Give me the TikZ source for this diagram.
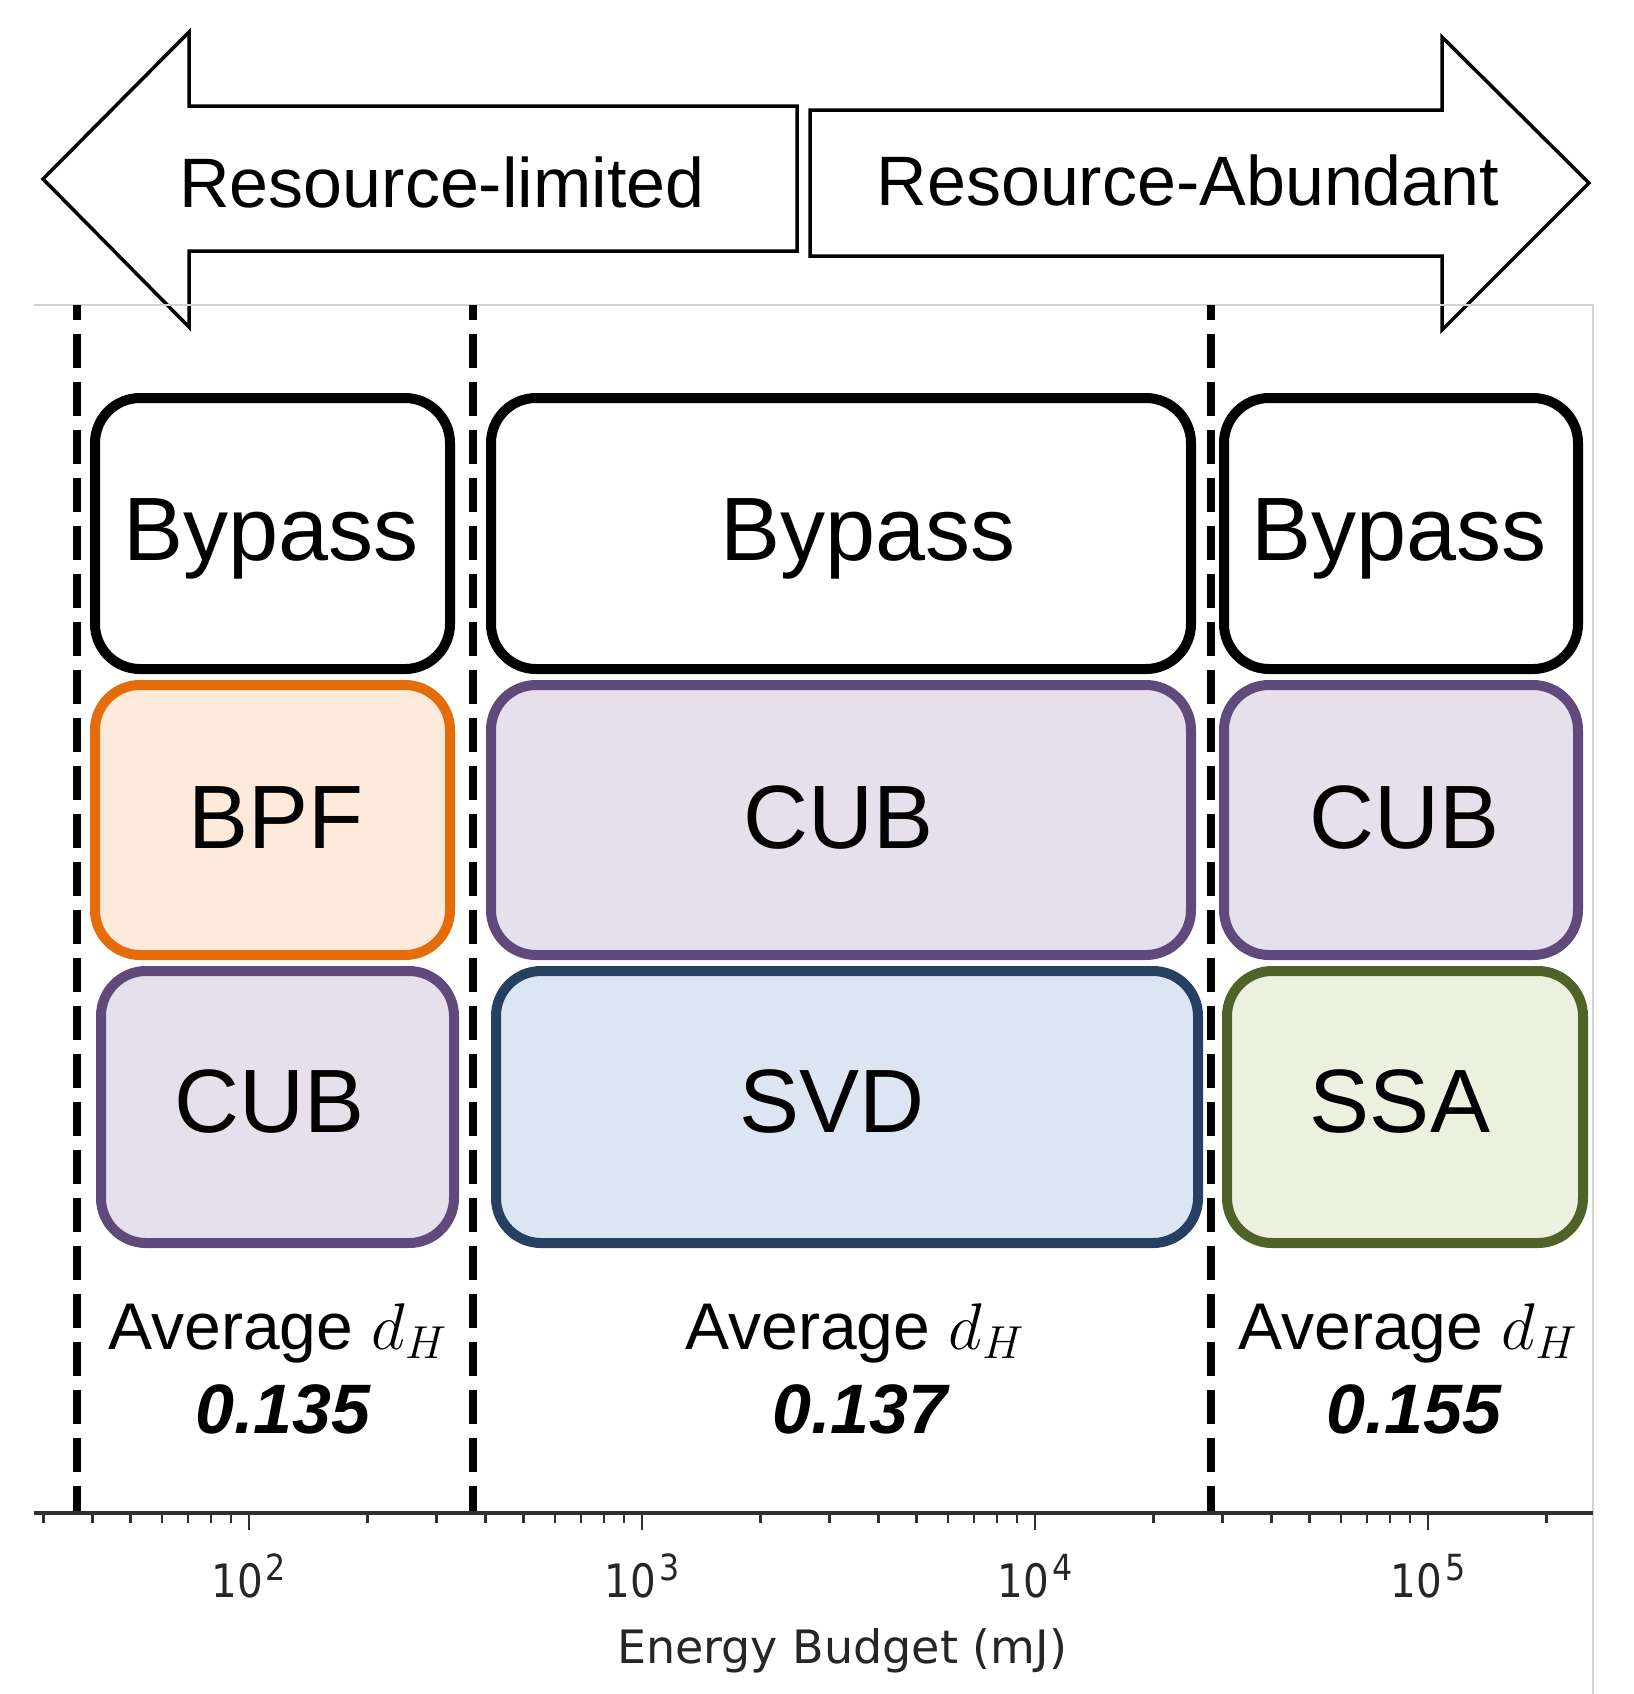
\RequirePackage{fix-cm}
\documentclass[tikz,border=0pt]{standalone}
\usepackage{fontspec}
\setmainfont{Liberation Sans}
\newfontfamily\dejavu{DejaVu Sans}
\usetikzlibrary{fit}
\definecolor{orangeB}{HTML}{E46C0A}
\definecolor{orangeF}{HTML}{FDEADA}
\definecolor{purpB}{HTML}{604A7B}
\definecolor{purpF}{HTML}{E5E0EC}
\definecolor{blueB}{HTML}{254061}
\definecolor{blueF}{HTML}{DCE6F2}
\definecolor{greenB}{HTML}{4F6228}
\definecolor{greenF}{HTML}{EBF1DE}
\definecolor{axgray}{HTML}{303030}
\definecolor{framegray}{HTML}{D2D2D2}
\definecolor{mpltext}{HTML}{262626}
\begin{document}
\begin{tikzpicture}[x=0.5pt,y=-0.5pt,
  blk/.style={draw, line width=5pt, rounded corners=22.5pt, inner sep=0pt},
  bypassbox/.style={blk, draw=black, fill=white},
  bpfbox/.style={blk, draw=orangeB, fill=orangeF},
  cubbox/.style={blk, draw=purpB, fill=purpF},
  svdbox/.style={blk, draw=blueB, fill=blueF},
  ssabox/.style={blk, draw=greenB, fill=greenF},
  boxtxt/.style={anchor=base, inner sep=0pt, font=\fontsize{45}{54}\selectfont},
  arrtxt/.style={anchor=base, inner sep=0pt, font=\fontsize{35}{42}\selectfont},
  avgtxt/.style={anchor=base, inner sep=0pt, font=\fontsize{33}{40}\selectfont},
  valtxt/.style={anchor=base, inner sep=0pt, font=\fontsize{35}{42}\selectfont\bfseries\itshape},
  ticklab/.style={anchor=base, inner sep=0pt, text=mpltext, font=\dejavu\fontsize{23}{28}\selectfont},
  axlab/.style={anchor=base, inner sep=0pt, text=mpltext, font=\dejavu\fontsize{23}{28}\selectfont},
  bigarrow/.style={draw=black, line width=1.75pt, line join=miter},
  vdash/.style={line width=4pt, dash pattern=on 17pt off 7pt, dash phase=9.5pt},
  tickmark/.style={axgray, line width=1.25pt}
]
\useasboundingbox (0,0) rectangle (1634,1694);
\fill[white] (0,0) rectangle (1634,1694);

% top arrows
\draw[bigarrow] (43,179) -- (189,32) -- (189,106) -- (797,106) -- (797,251) -- (189,251) -- (189,327) -- cycle;
\draw[bigarrow] (810,110) -- (1442,110) -- (1442,37) -- (1589,183) -- (1442,330) -- (1442,256) -- (810,256) -- cycle;
\node[arrtxt] (rlim) at (442,207) {Resource-limited};
\node[arrtxt] (rabu) at (1188,205) {Resource-Abundant};

% plot frame
\draw[framegray, line width=0.75pt] (34,305) -- (1593,305) -- (1593,1694);

% dashed boundaries
\draw[vdash] (77,305) -- (77,1513);
\draw[vdash] (473,305) -- (473,1513);
\draw[vdash] (1211,305) -- (1211,1513);

% boxes
\node[bypassbox, fit={(95,398) (450,669)}] (b11) {};
\node[bpfbox,    fit={(95,685) (450,955)}] (b21) {};
\node[cubbox,    fit={(101,971) (454,1243)}] (b31) {};
\node[bypassbox, fit={(491,398) (1191,669)}] (b12) {};
\node[cubbox,    fit={(491,685) (1191,955)}] (b22) {};
\node[svdbox,    fit={(496,971) (1198,1243)}] (b32) {};
\node[bypassbox, fit={(1224,398) (1578,669)}] (b13) {};
\node[cubbox,    fit={(1224,685) (1578,955)}] (b23) {};
\node[ssabox,    fit={(1227,971) (1583,1243)}] (b33) {};

\node[boxtxt] (t11) at (271,560) {Bypass};
\node[boxtxt] (t12) at (868,560) {Bypass};
\node[boxtxt] (t13) at (1399,560) {Bypass};
\node[boxtxt] (t21) at (276,848) {BPF};
\node[boxtxt] (t22) at (839,848) {CUB};
\node[boxtxt] (t23) at (1405,848) {CUB};
\node[boxtxt] (t31) at (270,1132) {CUB};
\node[boxtxt] (t32) at (832,1132) {SVD};
\node[boxtxt] (t33) at (1400,1132) {SSA};

% averages
\node[avgtxt] (a1) at (278,1349) {Average $d_H$};
\node[avgtxt] (a2) at (855,1349) {Average $d_H$};
\node[avgtxt] (a3) at (1408,1349) {Average $d_H$};
\node[valtxt] (v1) at (283,1433) {0.135};
\node[valtxt] (v2) at (860,1433) {0.137};
\node[valtxt] (v3) at (1414,1433) {0.155};

% axis
\draw[axgray, line width=2pt] (34,1513) -- (1593,1513);
\foreach \k in {1,...,5}{
  \foreach \m in {2,...,9}{
    \pgfmathsetmacro\xx{249+393*(\k-2+log10(\m))}
    \ifdim\xx pt>34pt \ifdim\xx pt<1593pt
      \draw[tickmark] (\xx,1513) -- (\xx,1523);
    \fi\fi
  }
}
\foreach \k/\x in {2/249,3/642,4/1035,5/1428}{
  \draw[tickmark] (\x,1513) -- (\x,1530);
  \node[ticklab] (lab\k) at (\x,1597) {\scalebox{0.88}[1]{10\kern1.5pt\raisebox{8.5pt}{\fontsize{18}{20}\selectfont\k}}};
}
\node[axlab] (xlabel) at (842,1663) {Energy Budget (mJ)};
\end{tikzpicture}
\end{document}
